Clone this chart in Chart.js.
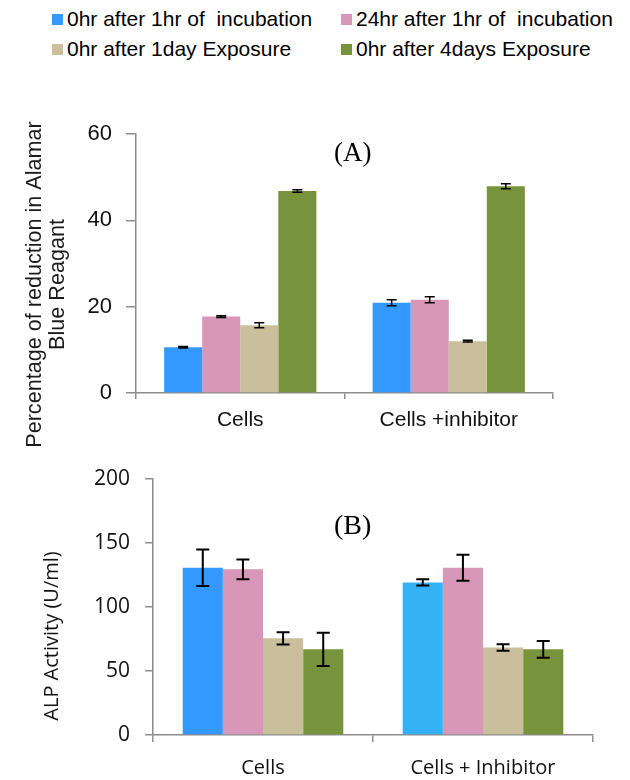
<!DOCTYPE html>
<html>
<head>
<meta charset="utf-8">
<script src="https://cdn.jsdelivr.net/npm/chart.js@4.4.0/dist/chart.umd.min.js"></script>
<style>
body{margin:0;background:#fff;}
#wrap{position:relative;width:630px;height:780px;overflow:hidden;}
.leg{position:absolute;display:flex;align-items:center;height:22px;font:21px "Liberation Sans",Arial,sans-serif;color:#000;white-space:pre;}
.leg span{display:inline-block;width:11px;height:11px;margin-right:4px;}
.panel{position:absolute;font-family:"Liberation Serif","Times New Roman",serif;color:#000;}
canvas{position:absolute;left:0;}
</style>
</head>
<body>
<div id="wrap">
<div id="legend"></div>
<canvas id="chartA" width="630" height="360" style="top:100px"></canvas>
<canvas id="chartB" width="630" height="320" style="top:460px"></canvas>
<div class="panel" style="left:334px;top:137px;font-size:27px">(A)</div>
<div class="panel" style="left:334px;top:509px;font-size:28px">(B)</div>
</div>
<script>
// series names and colours
const seriesLabels=["0hr after 1hr of  incubation","24hr after 1hr of  incubation","0hr after 1day Exposure","0hr after 4days Exposure"];
const seriesColors=["#3399FF","#D896B8","#C9BF9C","#77933C"];

// panel A - Alamar blue reduction (%)
const categoriesA=["Cells","Cells +inhibitor"];
const a0hr1hr=[10.6,20.9];
const a24hr1hr=[17.7,21.6];
const a0hr1day=[15.7,12.0];
const a0hr4days=[46.8,47.9];
const errA0hr1hr=[0.2,0.7];
const errA24hr1hr=[0.2,0.7];
const errA0hr1day=[0.6,0.2];
const errA0hr4days=[0.3,0.6];
const ticksA=[0,20,40,60];

// panel B - ALP activity (U/ml)
const categoriesB=["Cells","Cells + Inhibitor"];
const b0hr1hr=[130.7,119.2];
const b24hr1hr=[129.4,130.7];
const b0hr1day=[75.5,68.4];
const b0hr4days=[66.9,66.9];
const errB0hr1hr=[14.2,2.5];
const errB24hr1hr=[7.8,10.1];
const errB0hr1day=[4.7,2.5];
const errB0hr4days=[12.9,6.6];
const ticksB=[0,50,100,150,200];

// legend (2 columns)
const leg=document.getElementById("legend");
seriesLabels.forEach((t,i)=>{
  const d=document.createElement("div");
  d.className="leg";
  d.style.left=(i%2?341:52)+"px";
  d.style.top=(i<2?8:38)+"px";
  d.innerHTML='<span style="background:'+seriesColors[i]+'"></span>'+t;
  leg.appendChild(d);
});

const errorBars={
  id:"errorBars",
  afterDatasetsDraw(chart,args,opts){
    const ctx=chart.ctx,y=chart.scales.y;
    ctx.save();
    ctx.strokeStyle="#000";
    ctx.lineWidth=opts.width;
    chart.data.datasets.forEach((ds,i)=>{
      chart.getDatasetMeta(i).data.forEach((bar,j)=>{
        const v=ds.data[j],e=ds.errors[j];
        const top=y.getPixelForValue(v+e),bot=y.getPixelForValue(v-e);
        ctx.beginPath();
        ctx.moveTo(bar.x,top);ctx.lineTo(bar.x,bot);
        ctx.moveTo(bar.x-opts.cap,top);ctx.lineTo(bar.x+opts.cap,top);
        ctx.moveTo(bar.x-opts.cap,bot);ctx.lineTo(bar.x+opts.cap,bot);
        ctx.stroke();
      });
    });
    ctx.restore();
  }
};

// rotated y title, placed a bit below the middle of the axis like the original
const sideTitle={
  id:"sideTitle",
  afterDraw(chart,args,opts){
    const ctx=chart.ctx,a=chart.chartArea;
    const cy=(a.top+a.bottom)/2+opts.dy;
    ctx.save();
    ctx.fillStyle=opts.color;
    ctx.font=opts.font;
    ctx.textAlign="center";
    ctx.textBaseline="middle";
    opts.lines.forEach((t,i)=>{
      ctx.save();
      ctx.translate(opts.x[i],cy);
      ctx.rotate(-Math.PI/2);
      ctx.fillText(t,0,0);
      ctx.restore();
    });
    ctx.restore();
  }
};

function makeSets(vals,errs,colors){
  return vals.map((v,i)=>({
    label:seriesLabels[i],
    data:v,
    errors:errs[i],
    backgroundColor:colors[i],
    borderWidth:0,
    barPercentage:1,
    categoryPercentage:0.73
  }));
}

function axes(o){
  return {
    x:{
      afterFit:s=>{s.height=o.xh;},
      grid:{display:true,drawOnChartArea:false,offset:true,tickLength:o.xtl,color:"#8c8c8c",lineWidth:1.5},
      border:{display:true,color:"#8c8c8c",width:1.5},
      ticks:{color:"#111",font:{family:o.font,size:o.xfs},padding:o.xpad,maxRotation:0}
    },
    y:{
      min:o.ticks[0],max:o.ticks[o.ticks.length-1],
      afterFit:s=>{s.width=o.yw;s.paddingTop=0;s.paddingBottom=0;},
      afterBuildTicks:s=>{s.ticks=o.ticks.map(v=>({value:v}));},
      grid:{display:true,drawOnChartArea:false,tickLength:o.ytl,color:"#8c8c8c",lineWidth:1.5},
      border:{display:true,color:"#8c8c8c",width:1.5},
      ticks:{color:"#111",font:{family:o.font,size:o.yfs},padding:o.ypad}
    }
  };
}

new Chart(document.getElementById("chartA"),{
  type:"bar",
  data:{labels:categoriesA,
    datasets:makeSets([a0hr1hr,a24hr1hr,a0hr1day,a0hr4days],
      [errA0hr1hr,errA24hr1hr,errA0hr1day,errA0hr4days],seriesColors)},
  options:{
    responsive:false,animation:false,
    layout:{padding:{top:34,right:77,left:0,bottom:0}},
    scales:axes({ticks:ticksA,xh:67,yw:136,xtl:6,ytl:10,xpad:9,ypad:14,xfs:21,yfs:22,font:"Liberation Sans"}),
    plugins:{
      legend:{display:false},tooltip:{enabled:false},
      errorBars:{width:1.5,cap:5},
      sideTitle:{lines:["Percentage of reduction in Alamar","Blue Reagant"],x:[35,58],dy:21,
        font:'21.6px "Liberation Sans"',color:"#1a1a1a"}
    }
  },
  plugins:[errorBars,sideTitle]
});

new Chart(document.getElementById("chartB"),{
  type:"bar",
  data:{labels:categoriesB,
    datasets:makeSets([b0hr1hr,b24hr1hr,b0hr1day,b0hr4days],
      [errB0hr1hr,errB24hr1hr,errB0hr1day,errB0hr4days],
      [["#3399FF","#35B1F6"],seriesColors[1],seriesColors[2],seriesColors[3]])},
  options:{
    responsive:false,animation:false,
    layout:{padding:{top:19,right:37,left:0,bottom:0}},
    scales:axes({ticks:ticksB,xh:45,yw:153,xtl:7,ytl:8,xpad:14,ypad:15,xfs:20,yfs:21,font:"Open Sans"}),
    plugins:{
      legend:{display:false},tooltip:{enabled:false},
      errorBars:{width:2,cap:6.5},
      sideTitle:{lines:["ALP Activity (U/ml)"],x:[52],dy:29,
        font:'20px "Open Sans"',color:"#111"}
    }
  },
  plugins:[errorBars,sideTitle]
});
</script>
</body>
</html>
